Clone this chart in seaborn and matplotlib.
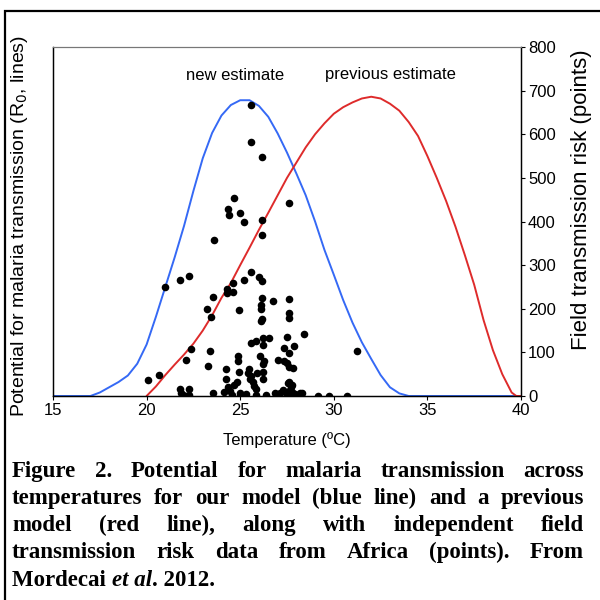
import matplotlib
matplotlib.use("Agg")
import matplotlib.pyplot as plt
import seaborn as sns
import numpy as np
import pandas as pd
from matplotlib.patches import Rectangle

# ---------------- data ----------------
blue_temp = [15, 16, 17, 17.5, 18, 18.5, 19, 19.5, 20, 20.5, 21, 21.5, 22, 22.5, 23, 23.5,
             24, 24.5, 25, 25.5, 26, 26.5, 27, 27.5, 28, 28.5, 29, 29.5, 30, 30.5, 31,
             31.5, 32, 32.5, 33, 33.5, 34, 35, 40]
blue_r0 = [0, 0, 0, 8, 20, 32, 47, 74, 118, 182, 250, 318, 390, 470, 545, 603,
           643, 667, 678, 678, 665, 640, 602, 558, 510, 460, 400, 335, 278, 220, 168,
           123, 85, 48, 20, 6, 0, 0, 0]

red_temp = [20, 20.5, 21, 21.5, 22, 22.5, 23, 23.5, 24, 24.5, 25, 25.5, 26, 26.5, 27,
            27.5, 28, 28.5, 29, 29.5, 30, 30.5, 31, 31.5, 32, 32.5, 33, 33.5, 34, 34.5,
            35, 35.5, 36, 36.5, 37, 37.5, 38, 38.5, 39, 39.5, 39.75, 40]
red_r0 = [0, 22, 48, 72, 95, 120, 150, 185, 225, 259, 300, 340, 381, 420, 460,
          500, 535, 570, 600, 625, 647, 662, 673, 682, 686, 682, 670, 654, 628, 596,
          550, 500, 447, 388, 323, 255, 174, 105, 50, 8, 0, 0]

pt_temp = [25.56, 25.56, 26.18, 24.65, 24.37, 24.40, 24.99, 25.22, 26.18, 27.59, 26.18, 23.62,
           20.98, 21.78, 22.28, 25.56, 25.22, 25.99, 26.18, 24.60, 24.31, 24.31, 24.60, 23.53,
           23.23, 24.94, 23.44, 26.18, 26.77, 27.59, 26.10, 26.10, 27.59, 27.59, 26.18, 26.10,
           28.41, 27.48, 25.58, 25.84, 26.20, 26.56, 26.24, 27.89, 27.34, 22.37, 23.39, 27.59,
           31.22, 24.86, 24.86, 22.10, 26.06, 26.29, 26.23, 27.00, 27.34, 27.52, 27.61, 27.80,
           23.26, 24.24, 25.49, 25.40, 25.60, 25.88, 26.20, 24.94, 20.09, 20.68, 24.24, 24.81,
           24.69, 25.52, 25.70, 25.75, 26.24, 27.62, 27.75, 24.37, 21.78, 22.28, 21.84, 22.28,
           21.95, 23.53, 24.15, 24.46, 24.55, 24.99, 24.99, 25.84, 25.84, 26.86, 27.13, 27.30,
           27.48, 27.84, 28.19, 27.60, 27.70, 29.14, 29.74, 30.69, 27.57, 27.71, 27.75, 27.93,
           28.28, 22.10, 25.30, 26.40]
pt_risk = [667, 583, 547, 454, 429, 415, 419, 398, 404, 442, 370, 358,
           250, 267, 274, 284, 267, 273, 264, 260, 246, 236, 238, 227,
           200, 197, 181, 225, 218, 223, 208, 200, 191, 178, 176, 171,
           141, 136, 122, 126, 134, 134, 117, 115, 111, 107, 104, 99,
           103, 92, 81, 82, 91, 81, 73, 82, 81, 76, 67, 65,
           69, 61, 61, 52, 45, 53, 56, 54, 37, 47, 40, 33,
           25, 40, 31, 22, 38, 33, 25, 20, 15, 17, 6, 2,
           3, 8, 10, 12, 2, 6, 1, 15, 2, 6, 8, 14,
           5, 2, 8, 12, 3, 1, 1, 1, 29, 21, 10, 5,
           8, 1, 5, 3]

x_ticks = [15, 20, 25, 30, 35, 40]
y_ticks = [0, 100, 200, 300, 400, 500, 600, 700, 800]

caption_lines = [
    "Figure 2. Potential for malaria transmission across",
    "temperatures for our model (blue line) and a previous",
    "model (red line), along with independent field",
    "transmission risk data from Africa (points). From",
]
caption_last = [("Mordecai ", "normal"), ("et al", "italic"), (". 2012.", "normal")]

# ---------------- style ----------------
sns.set_theme(style="white")
plt.rcParams['font.family'] = ['Liberation Sans', 'DejaVu Sans']

W, H = 600, 600
fig = plt.figure(figsize=(6, 6), dpi=100)
fig.patch.set_facecolor("white")

L, R, T, B = 53, 521, 47, 396
ax = fig.add_axes([L / W, 1 - B / H, (R - L) / W, (B - T) / H])

blue_df = pd.DataFrame({"temp": blue_temp, "r0": blue_r0})
red_df = pd.DataFrame({"temp": red_temp, "r0": red_r0})
sns.lineplot(data=blue_df, x="temp", y="r0", ax=ax, color="#3569F5", lw=1.4, sort=False)
sns.lineplot(data=red_df, x="temp", y="r0", ax=ax, color="#DE2B2B", lw=1.4, sort=False)
ax.set_xlim(15, 40)
ax.set_ylim(0, 800)
ax.set_yticks([])
ax.set_xticks(x_ticks)
ax.set_xticklabels([str(t) for t in x_ticks], fontsize=12, color="black")
ax.tick_params(axis="x", direction="out", length=3, width=0.8, color="black", pad=2, bottom=True)
ax.set_xlabel("Temperature (ºC)", fontsize=12, color="black", labelpad=10)
ax.set_ylabel("")
fig.text(20 / W, 1 - 226 / H, "Potential for malaria transmission (R$_0$, lines)",
         rotation=90, ha="center", va="center", fontsize=14, color="black")

ax2 = ax.twinx()
pts = pd.DataFrame({"temp": pt_temp, "risk": pt_risk})
sns.scatterplot(data=pts, x="temp", y="risk", ax=ax2, color="black", s=30,
                edgecolor="black", linewidth=0, zorder=5)
ax2.set_ylim(0, 800)
ax2.set_yticks(y_ticks)
ax2.set_yticklabels([str(t) for t in y_ticks], fontsize=12, color="black")
ax2.tick_params(axis="y", direction="out", length=3, width=0.8, color="black", pad=2, right=True)
ax2.set_ylabel("")
ax2.set_xlabel("")
fig.text(581 / W, 1 - 200 / H, "Field transmission risk (points)",
         rotation=90, ha="center", va="center", fontsize=16, color="black")

for a in (ax, ax2):
    for s in ("left", "bottom", "right"):
        a.spines[s].set_color("black")
        a.spines[s].set_linewidth(0.9)
    a.spines["top"].set_color("#777777")
    a.spines["top"].set_linewidth(0.8)

ax.text(0.39, 1.0 - (75 - T) / (B - T), "new estimate", transform=ax.transAxes,
        ha="center", va="center", fontsize=12, color="black")
ax.text(0.72, 1.0 - (75 - T) / (B - T), "previous estimate", transform=ax.transAxes,
        ha="center", va="center", fontsize=12, color="black")

# outer frame
fig.patches.append(Rectangle((5 / W, -0.05), 1.2, 1 - 11 / H + 0.05, transform=fig.transFigure,
                             fill=False, lw=1.6, ec="black", zorder=10))

# ---------------- caption (justified) ----------------
fig.canvas.draw()
rend = fig.canvas.get_renderer()
cap_kw = dict(fontsize=16.5, fontweight="bold", color="black", family="Liberation Serif",
              va="baseline", ha="left")
x0, x1 = 12, 584
line_base = [477, 504, 531, 558, 586]
for line, yb in zip(caption_lines, line_base[:4]):
    words = line.split(" ")
    txts = [fig.text(0, 1 - yb / H, w, **cap_kw) for w in words]
    widths = [t.get_window_extent(rend).width for t in txts]
    gap = (x1 - x0 - sum(widths)) / (len(words) - 1)
    x = x0
    for t, w in zip(txts, widths):
        t.set_x(x / W)
        x += w + gap

x = x0
for s, st in caption_last:
    t = fig.text(x / W, 1 - line_base[4] / H, s, fontstyle=st, **cap_kw)
    x += t.get_window_extent(rend).width

fig.savefig("out.png", dpi=100)
